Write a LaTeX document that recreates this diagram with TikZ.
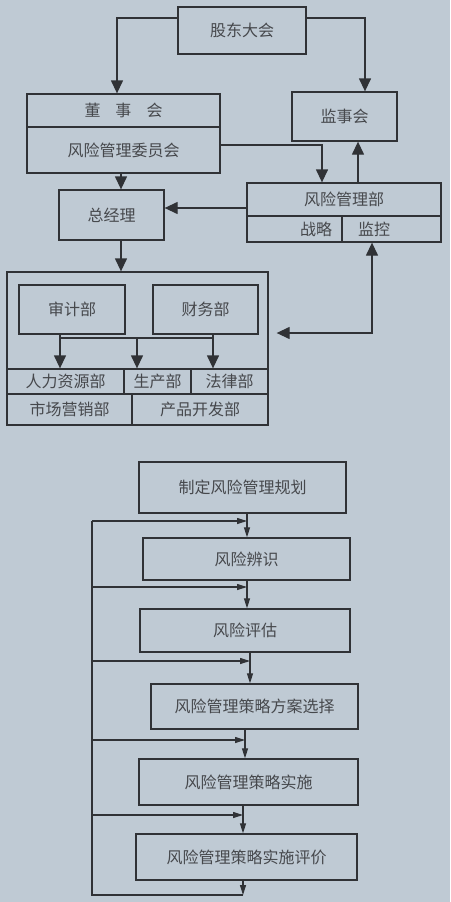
\documentclass[tikz,border=0pt]{standalone}
\usepackage{fontspec}
\newfontfamily\cjk{Noto Sans CJK SC}
\usetikzlibrary{arrows.meta, calc}
\definecolor{paper}{RGB}{191,202,212}
\definecolor{ink}{RGB}{48,50,54}
\definecolor{inktext}{RGB}{70,72,76}

\begin{document}
\begin{tikzpicture}[
    x=1pt, y=-1pt,
    every node/.style={font=\cjk\fontsize{16}{19}\selectfont, text=inktext},
    box/.style={draw=ink, line width=1.3pt, inner sep=0pt, align=center},
    wire/.style={draw=ink, line width=1.3pt},
    bigtip/.tip={Triangle[length=13pt, width=12pt]},
    smalltip/.tip={Triangle[length=10pt, width=6pt]},
    arr/.style={wire, -bigtip},
    sarr/.style={draw=ink, line width=1.1pt, -smalltip},
]
\fill[paper] (0,0) rectangle (450,902);

% ── Governance ───────────────────────────────────────────────────────────────
\node[box, minimum width=128pt, minimum height=47pt] (meeting) at (242,30.5) {股东大会};
\node[box, minimum width=193pt, minimum height=33pt] (board) at (123.5,110.5) {董\hspace{15pt}事\hspace{15pt}会};
\node[box, minimum width=193pt, minimum height=46pt] (committee) at (123.5,150) {风险管理委员会};
\node[box, minimum width=105pt, minimum height=49pt] (supervisors) at (344.5,116.5) {监事会};
\node[box, minimum width=105pt, minimum height=50pt] (manager) at (111.5,215) {总经理};
\node[box, minimum width=194pt, minimum height=33pt] (riskdept) at (344,199.5) {风险管理部};
\node[box, minimum width=95pt, minimum height=26pt, text width=75pt, align=right] (strategy) at (294.5,229) {战略};
\node[box, minimum width=99pt, minimum height=26pt, text width=67pt, align=left] (monitor) at (391.5,229) {监控};

% ── Departments ──────────────────────────────────────────────────────────────
\node[box, minimum width=261pt, minimum height=153pt] (depts) at (137.5,348.5) {};
\node[box, minimum width=106pt, minimum height=49pt] (audit) at (72,309.5) {审计部};
\node[box, minimum width=105pt, minimum height=49pt] (finance) at (205.5,309.5) {财务部};
\node[box, minimum width=117pt, minimum height=25pt] (hr) at (65.5,381.5) {人力资源部};
\node[box, minimum width=67pt, minimum height=25pt] (production) at (157.5,381.5) {生产部};
\node[box, minimum width=77pt, minimum height=25pt] (legal) at (229.5,381.5) {法律部};
\node[box, minimum width=125pt, minimum height=31pt] (marketing) at (69.5,409.5) {市场营销部};
\node[box, minimum width=136pt, minimum height=31pt] (product) at (200,409.5) {产品开发部};

% ── Process ──────────────────────────────────────────────────────────────────
\node[box, minimum width=207pt, minimum height=51pt] (plan) at (242.5,487.5) {制定风险管理规划};
\node[box, minimum width=207pt, minimum height=42pt] (identify) at (246.5,559) {风险辨识};
\node[box, minimum width=210pt, minimum height=43pt] (assess) at (245,630.5) {风险评估};
\node[box, minimum width=207pt, minimum height=45pt] (choose) at (254.5,706.5) {风险管理策略方案选择};
\node[box, minimum width=219pt, minimum height=46pt] (apply) at (248.5,782) {风险管理策略实施};
\node[box, minimum width=221pt, minimum height=46pt] (review) at (246.5,857) {风险管理策略实施评价};

% ── Arrows (top) ─────────────────────────────────────────────────────────────
\draw[arr] ([yshift=12.5pt]meeting.west) -| ([xshift=-6.5pt]board.north);
\draw[arr] ([yshift=12.5pt]meeting.east) -| ([xshift=20.5pt]supervisors.north);
\draw[arr] ([yshift=5pt]committee.east) -| ([xshift=-22pt]riskdept.north);
\draw[arr] ([xshift=14pt]riskdept.north) -- ([xshift=13.5pt]supervisors.south);
\draw[arr] ([xshift=-2.5pt]committee.south) -- ([xshift=9.5pt]manager.north);
\draw[arr] ([yshift=-8.5pt]riskdept.west) -- ([yshift=7pt]manager.east);
\draw[arr] ([xshift=9.5pt]manager.south) -- ([xshift=-16.5pt]depts.north);
\draw[wire, bigtip-bigtip, shorten <=8pt] ([yshift=15.5pt]depts.east) -| ([xshift=-19.5pt]monitor.south);

% ── Arrows (departments) ──────────────────────────────────────────────────────
\coordinate (bus) at (137,338);
\draw[wire] ([xshift=-12pt]audit.south) |- (bus) -| ([xshift=7.5pt]finance.south);
\draw[arr] ([xshift=-12pt]audit.south |- bus) -- ([xshift=-12pt]audit.south |- hr.north);
\draw[arr] (bus) -- (bus |- production.north);
\draw[arr] ([xshift=7.5pt]finance.south |- bus) -- ([xshift=7.5pt]finance.south |- legal.north);

% ── Arrows (process loop) ────────────────────────────────────────────────────
\foreach \a/\b/\tx/\fy [count=\i] in {plan/identify/247/521, identify/assess/247/587,
    assess/choose/250/661, choose/apply/245/740, apply/review/243/815}{
  \coordinate (in\i) at (\tx,\fy);
  \coordinate (out\i) at (92,\fy);
  \draw[sarr] (\a.south -| in\i) -- (\b.north -| in\i);
  \draw[sarr] (out\i) -- (in\i);
}
\coordinate (loopend) at (243,895);
\draw[sarr] (review.south -| loopend) -- (loopend);
\draw[wire, line width=1.1pt] (loopend) -| (out1);

\end{tikzpicture}
\end{document}
